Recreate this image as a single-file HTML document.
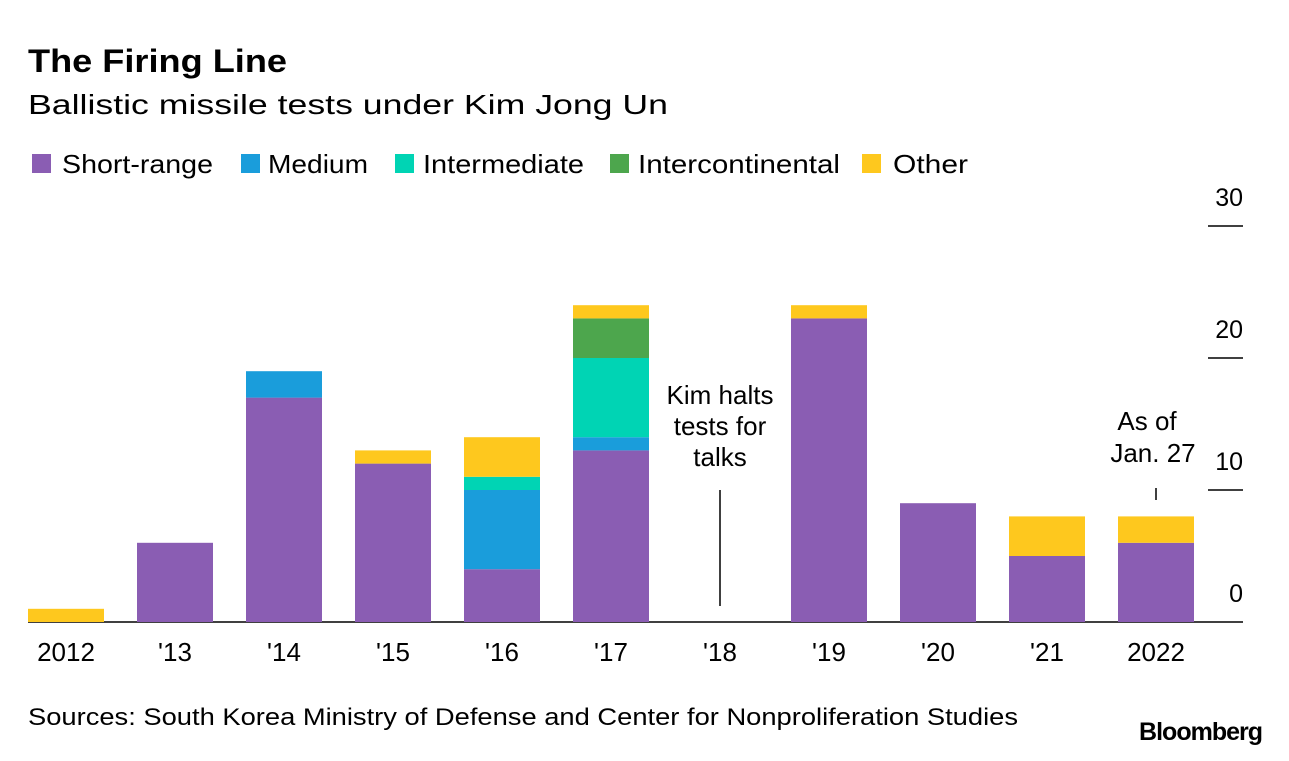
<!DOCTYPE html>
<html><head><meta charset="utf-8"><style>
body{margin:0;background:#fff;width:1289px;height:756px;overflow:hidden;font-family:"Liberation Sans",sans-serif;}
</style></head><body>
<svg width="1289" height="756" xmlns="http://www.w3.org/2000/svg" font-family="Liberation Sans, sans-serif">
<text x="28" y="72" font-size="32" font-weight="bold" fill="#000" textLength="259" lengthAdjust="spacingAndGlyphs">The Firing Line</text>
<text x="28" y="114" font-size="28" fill="#000" textLength="640" lengthAdjust="spacingAndGlyphs">Ballistic missile tests under Kim Jong Un</text>
<g id="legend"></g>
<g id="grid"></g>
<g id="bars"></g>
<g id="xlabels"></g>
<g font-size="26" text-anchor="middle">
<text x="720" y="404">Kim halts</text><text x="720" y="435">tests for</text><text x="720" y="466">talks</text>
<line x1="720" y1="490" x2="720" y2="606" stroke="#000" stroke-width="1.5"/>
</g>
<g font-size="26" text-anchor="middle">
<text x="1147" y="430">As of</text><text x="1153" y="462">Jan. 27</text>
<line x1="1156" y1="488" x2="1156" y2="500" stroke="#000" stroke-width="1.5"/>
</g>
<text x="28" y="725" font-size="24" fill="#000" textLength="990" lengthAdjust="spacingAndGlyphs">Sources: South Korea Ministry of Defense and Center for Nonproliferation Studies</text>
<text x="1262" y="740" font-size="25" font-weight="bold" text-anchor="end" letter-spacing="-1">Bloomberg</text>
</svg>
<script>
const categories=["2012","'13","'14","'15","'16","'17","'18","'19","'20","'21","2022"];
const shortRange=[0,6,17,12,4,13,0,23,9,5,6];
const medium=[0,0,2,0,6,1,0,0,0,0,0];
const intermediate=[0,0,0,0,1,6,0,0,0,0,0];
const icbm=[0,0,0,0,0,3,0,0,0,0,0];
const other=[1,0,0,1,3,1,0,1,0,3,2];
const yTicks=[0,10,20,30];
const seriesNames=["Short-range","Medium","Intermediate","Intercontinental","Other"];
const colors=["#8a5db3","#1a9ddb","#00d4b4","#4da64d","#fec81e"];
const ns="http://www.w3.org/2000/svg";
const y0=622, pxPer=13.2, x0=66, step=109, bw=76;
const y=v=>y0-v*pxPer;
const x=i=>x0+i*step;
function mk(t,a,p){const e=document.createElementNS(ns,t);for(const k in a)e.setAttribute(k,a[k]);p.appendChild(e);return e;}
const grid=document.getElementById('grid');
yTicks.forEach(t=>{
  if(t>0){const l=mk('line',{x1:1208,x2:1243,y1:y(t),y2:y(t),stroke:'#000','stroke-width':1.5},grid);
  
  }
  const tx=mk('text',{x:1243,y:y(t)-20,'font-size':25,'text-anchor':'end'},grid);tx.textContent=t;
  
  
});
const bars=document.getElementById('bars');
const series=[shortRange,medium,intermediate,icbm,other];
categories.forEach((c,i)=>{
  let acc=0;
  series.forEach((s,j)=>{
    const v=s[i];if(!v)return;
    const r=mk('rect',{x:x(i)-bw/2,y:y(acc+v),width:bw,height:v*pxPer,fill:colors[j]},bars);
    
    
    acc+=v;
  });
  const t=mk('text',{x:x(i),y:661,'font-size':26,'text-anchor':'middle'},document.getElementById('xlabels'));t.textContent=c;
  
  
});
const base=mk('line',{x1:28,x2:1243,y1:y0,y2:y0,stroke:'#000','stroke-width':1.5},grid);


const lg=document.getElementById('legend');
const sx=[32,241,395,610,862];
const tx0=[62,268,423,638,893];
const tw=[151,100,161,202,75];
seriesNames.forEach((n,j)=>{
  const r=mk('rect',{x:sx[j],y:154,width:19,height:19,fill:colors[j]},lg);
  
  
  const t=mk('text',{x:tx0[j],y:173,'font-size':26,textLength:tw[j],lengthAdjust:'spacingAndGlyphs'},lg);t.textContent=n;
  
  
});
</script>
</body></html>
